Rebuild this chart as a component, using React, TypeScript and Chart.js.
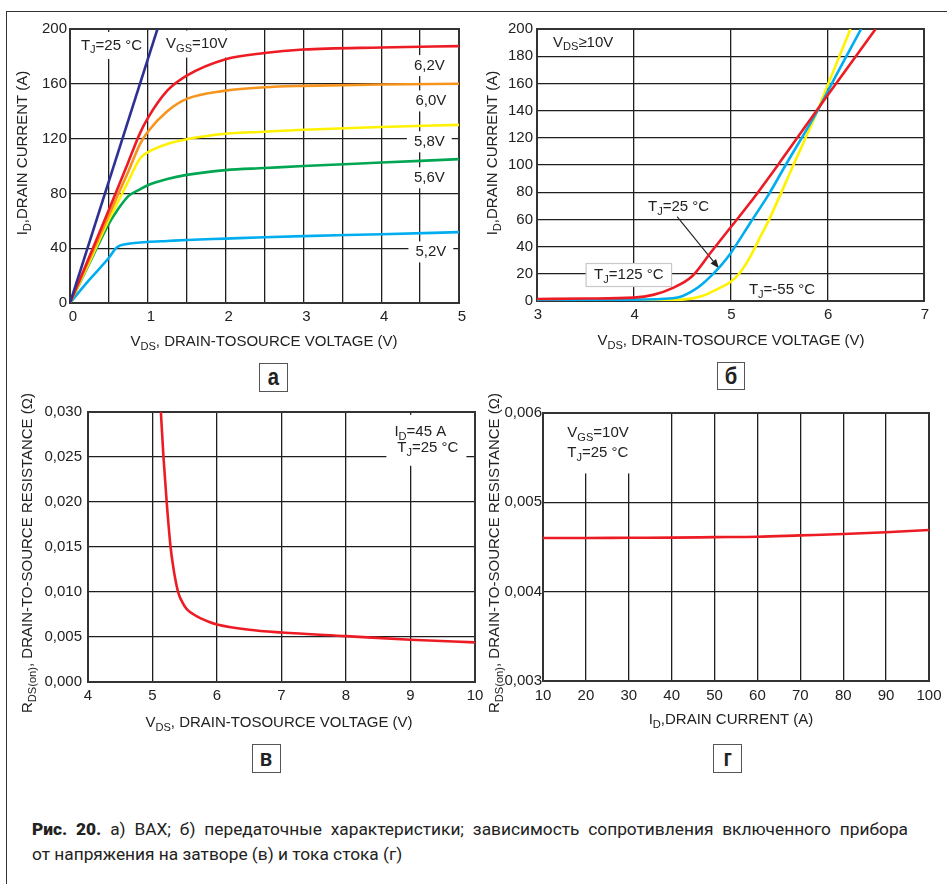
import React, { useEffect, useLayoutEffect, useRef } from 'react';
import { Chart, registerables } from 'chart.js';
Chart.register(...registerables);

const FONT = '"Liberation Sans", Arial, Helvetica, sans-serif';
const INK = '#222';
const GRID = '#1e1e1e';
const FS = 15;

// ---------- Chart а: output characteristics ----------
const A_X = [0, 0.25, 0.5, 0.6, 0.75, 0.9, 1, 1.25, 1.5, 2, 2.5, 3, 4, 5];
const A_I_62 = [0, 34, 68, 82, 103, 124, 135, 155, 166, 178, 182.5, 185, 186.5, 187.5];
const A_I_60 = [0, 32, 64, 77, 96, 116, 125, 140, 149, 155, 157.5, 158.5, 159.5, 160];
const A_I_58 = [0, 30, 61, 72, 89, 105.5, 110, 116, 119.5, 123.5, 125, 126.5, 128.5, 130];
const A_I_56 = [0, 29, 58, 67, 78, 83, 86, 90.5, 93.5, 97, 98.5, 100, 102.5, 105];
const A_I_52 = [0, 17, 33, 40.5, 43.2, 44.2, 44.6, 45.3, 46, 47, 48, 48.8, 50.2, 51.7];
const A_X_10 = [0, 1.124];
const A_I_10 = [0, 200];
const A_CURVE_LABELS = ['6,2V', '6,0V', '5,8V', '5,6V', '5,2V'];

// ---------- Chart б: transfer characteristics ----------
const B_X_125 = [3, 3.5, 4, 4.2, 4.4, 4.6, 4.8, 5.0, 5.2, 5.5, 6.0, 6.5];
const B_I_125 = [1.5, 1.8, 2.5, 4.5, 9.5, 18, 36, 54, 72, 101, 151, 200];
const B_X_25 = [3, 4, 4.4, 4.5, 4.6, 4.7, 4.8, 4.9, 5.0, 5.2, 5.4, 5.57, 5.9, 6.1, 6.35];
const B_I_25 = [1, 1, 2, 3.5, 7, 12, 18.5, 26, 35, 57, 79, 100, 140, 167, 200];
const B_X_M55 = [3, 4, 4.5, 4.7, 4.8, 4.9, 5.0, 5.1, 5.2, 5.3, 5.4, 5.65, 5.9, 6.0, 6.24];
const B_I_M55 = [0.8, 0.6, 1, 3.5, 6.5, 10, 14, 21, 32, 46, 60, 100, 140, 158, 200];

// ---------- Chart в: R vs V ----------
const C_V = [5.13, 5.17, 5.22, 5.28, 5.33, 5.36, 5.39, 5.42, 5.46, 5.5, 5.56, 5.64, 5.74, 5.87, 6.0, 6.5, 7, 8, 9, 10];
const C_R = [0.030, 0.025, 0.020, 0.015, 0.0124, 0.0112, 0.0102, 0.0095, 0.0089, 0.0084, 0.0079, 0.0075, 0.0071, 0.0067, 0.0064, 0.0058, 0.0055, 0.0051, 0.0047, 0.0044];

// ---------- Chart г: R vs I ----------
const D_I = [10, 20, 30, 40, 50, 60, 70, 80, 90, 100];
const D_R = [0.00460, 0.00460, 0.004603, 0.004605, 0.00461, 0.004615, 0.00463, 0.004645, 0.004665, 0.00469];

const PANEL_LETTERS = ['а', 'б', 'в', 'г'];
const CAPTION_BOLD = 'Рис. 20.';
const CAPTION_L1 = ' а) ВАХ; б) передаточные характеристики; зависимость сопротивления включенного прибора';
const CAPTION_L2 = 'от напряжения на затворе (в) и тока стока (г)';

// ---------- rich text helpers ----------
type Part = { t: string; sub: boolean };
function parseRich(s: string): Part[] {
  const out: Part[] = [];
  const re = /_\{([^}]*)\}/g;
  let last = 0;
  let m: RegExpExecArray | null;
  while ((m = re.exec(s))) {
    if (m.index > last) out.push({ t: s.slice(last, m.index), sub: false });
    out.push({ t: m[1], sub: true });
    last = m.index + m[0].length;
  }
  if (last < s.length) out.push({ t: s.slice(last), sub: false });
  return out;
}
const fontStr = (size: number) => `${size}px ${FONT}`;
function richWidth(ctx: CanvasRenderingContext2D, s: string, size: number) {
  let w = 0;
  for (const p of parseRich(s)) {
    ctx.font = fontStr(p.sub ? size * 0.74 : size);
    w += ctx.measureText(p.t).width;
  }
  return w;
}
function drawRich(ctx: CanvasRenderingContext2D, s: string, x: number, y: number, size: number, align: 'left' | 'center') {
  const w = richWidth(ctx, s, size);
  let cx = align === 'center' ? x - w / 2 : x;
  ctx.textBaseline = 'middle';
  ctx.textAlign = 'left';
  ctx.fillStyle = INK;
  for (const p of parseRich(s)) {
    const sz = p.sub ? size * 0.74 : size;
    ctx.font = fontStr(sz);
    ctx.fillText(p.t, cx, p.sub ? y + size * 0.32 : y);
    cx += ctx.measureText(p.t).width;
  }
}

type AnnLine = { x: number; y: number; text: string };
type Ann = { lines: AnnLine[]; pad: [number, number]; border?: string };
type Arrow = { x0: number; y0: number; x1: number; y1: number };
type Title = { text: string; x: number; y: number };
type OverlayCfg = { anns: Ann[]; arrows?: Arrow[]; xTitle: Title; yTitle: Title };

function overlay(cfg: OverlayCfg) {
  return {
    id: 'overlay',
    beforeDatasetsDraw(chart: any) {
      const ctx: CanvasRenderingContext2D = chart.ctx;
      const xs = chart.scales.x, ys = chart.scales.y;
      const ca = chart.chartArea;
      ctx.save();
      ctx.beginPath();
      ctx.rect(ca.left, ca.top, ca.right - ca.left, ca.bottom - ca.top);
      ctx.clip();
      for (const a of cfg.anns) {
        let x0 = Infinity, x1 = -Infinity, y0 = Infinity, y1 = -Infinity;
        const pos = a.lines.map((l) => {
          const px = xs.getPixelForValue(l.x), py = ys.getPixelForValue(l.y);
          const w = richWidth(ctx, l.text, FS);
          x0 = Math.min(x0, px); x1 = Math.max(x1, px + w);
          y0 = Math.min(y0, py - 7.5); y1 = Math.max(y1, py + 7.5);
          return { px, py, l };
        });
        const bx = x0 - a.pad[0], by = y0 - a.pad[1];
        const bw = x1 - x0 + 2 * a.pad[0], bh = y1 - y0 + 2 * a.pad[1];
        ctx.fillStyle = '#fff';
        ctx.fillRect(bx, by, bw, bh);
        if (a.border) {
          ctx.strokeStyle = a.border;
          ctx.lineWidth = 1.2;
          ctx.strokeRect(bx, by, bw, bh);
        }
        for (const p of pos) drawRich(ctx, p.l.text, p.px, p.py, FS, 'left');
      }
      for (const ar of cfg.arrows || []) {
        const ax0 = xs.getPixelForValue(ar.x0), ay0 = ys.getPixelForValue(ar.y0);
        const ax1 = xs.getPixelForValue(ar.x1), ay1 = ys.getPixelForValue(ar.y1);
        const ang = Math.atan2(ay1 - ay0, ax1 - ax0);
        ctx.strokeStyle = INK;
        ctx.lineWidth = 1.1;
        ctx.beginPath();
        ctx.moveTo(ax0, ay0);
        ctx.lineTo(ax1 - 6 * Math.cos(ang), ay1 - 6 * Math.sin(ang));
        ctx.stroke();
        ctx.fillStyle = INK;
        ctx.beginPath();
        ctx.moveTo(ax1, ay1);
        ctx.lineTo(ax1 - 9 * Math.cos(ang) + 3.5 * Math.sin(ang), ay1 - 9 * Math.sin(ang) - 3.5 * Math.cos(ang));
        ctx.lineTo(ax1 - 9 * Math.cos(ang) - 3.5 * Math.sin(ang), ay1 - 9 * Math.sin(ang) + 3.5 * Math.cos(ang));
        ctx.closePath();
        ctx.fill();
      }
      ctx.restore();
      ctx.save();
      ctx.strokeStyle = '#333';
      ctx.lineWidth = 2;
      ctx.strokeRect(ca.left, ca.top, ca.right - ca.left, ca.bottom - ca.top);
      ctx.restore();
    },
    afterDraw(chart: any) {
      const ctx: CanvasRenderingContext2D = chart.ctx;
      ctx.save();
      drawRich(ctx, cfg.xTitle.text, cfg.xTitle.x, cfg.xTitle.y, FS, 'center');
      ctx.translate(cfg.yTitle.x, cfg.yTitle.y);
      ctx.rotate(-Math.PI / 2);
      drawRich(ctx, cfg.yTitle.text, 0, 0, FS, 'center');
      ctx.restore();
    },
  };
}

const pts = (xs: number[], ys: number[]) => xs.map((x, i) => ({ x, y: ys[i] }));
const line = (xs: number[], ys: number[], color: string) => ({
  data: pts(xs, ys),
  borderColor: color,
  backgroundColor: color,
  borderWidth: 2.6,
  pointRadius: 0,
  fill: false,
  cubicInterpolationMode: 'monotone' as const,
});

const commaFmt = (d: number) => (v: number) => v.toFixed(d).replace('.', ',');

type Lay = {
  padding: { top: number; right: number; left: number; bottom: number };
  yw: number; xh: number;
  xmin: number; xmax: number; xstep: number; xcb: (v: number) => string; xpad: number; xoff?: number;
  ymin: number; ymax: number; ystep: number; ycb: (v: number) => string; ypad: number;
};

function makeConfig(datasets: any[], lay: Lay, ov: OverlayCfg): any {
  const tickFont = { family: FONT, size: FS };
  return {
    type: 'line',
    data: { datasets },
    options: {
      responsive: false,
      animation: false,
      events: [],
      layout: { padding: lay.padding },
      plugins: { legend: { display: false }, tooltip: { enabled: false } },
      scales: {
        x: {
          type: 'linear', min: lay.xmin, max: lay.xmax,
          ticks: { stepSize: lay.xstep, callback: lay.xcb, padding: lay.xpad, color: INK, font: tickFont, autoSkip: false, maxRotation: 0, labelOffset: lay.xoff || 0 },
          grid: { color: GRID, lineWidth: 1.3, drawTicks: false },
          border: { display: false },
          afterFit: (s: any) => { s.height = lay.xh; s.paddingLeft = 0; s.paddingRight = 0; },
        },
        y: {
          type: 'linear', min: lay.ymin, max: lay.ymax,
          ticks: { stepSize: lay.ystep, callback: lay.ycb, padding: lay.ypad, color: INK, font: tickFont, autoSkip: false },
          grid: { color: GRID, lineWidth: 1.3, drawTicks: false },
          border: { display: false },
          afterFit: (s: any) => { s.width = lay.yw; s.paddingTop = 0; s.paddingBottom = 0; },
        },
      },
    },
    plugins: [overlay(ov)],
  };
}

function configA() {
  const ds = [
    line(A_X_10, A_I_10, '#2e3192'),
    line(A_X, A_I_62, '#ed1c24'),
    line(A_X, A_I_60, '#f7941d'),
    line(A_X, A_I_58, '#fff200'),
    line(A_X, A_I_56, '#00a651'),
    line(A_X, A_I_52, '#00aeef'),
  ];
  const labelY = [173.3, 147.5, 117.7, 91.4, 37.3];
  const labelX = [4.42, 4.44, 4.42, 4.42, 4.44];
  const anns: Ann[] = [
    { lines: [{ x: 0.14, y: 188, text: 'T_{J}=25 °C' }], pad: [5, 6] },
    { lines: [{ x: 1.235, y: 189, text: 'V_{GS}=10V' }], pad: [5, 6] },
    ...A_CURVE_LABELS.map((t, i) => ({ lines: [{ x: labelX[i], y: labelY[i], text: t }], pad: [7, 3] as [number, number] })),
  ];
  return makeConfig(ds, {
    padding: { top: 29, right: 21, left: 0, bottom: 0 }, yw: 70, xh: 52,
    xmin: 0, xmax: 5, xstep: 0.5, xcb: (v) => (Number.isInteger(v) ? String(v) : ''), xpad: 5, xoff: 3,
    ymin: 0, ymax: 200, ystep: 40, ycb: (v) => String(v), ypad: 3,
  }, {
    anns,
    xTitle: { text: 'V_{DS}, DRAIN-TOSOURCE VOLTAGE (V)', x: 264, y: 342 },
    yTitle: { text: 'I_{D},DRAIN CURRENT (A)', x: 23, y: 153 },
  });
}

function configB() {
  const ds = [
    line(B_X_125, B_I_125, '#ed1c24'),
    line(B_X_25, B_I_25, '#00aeef'),
    line(B_X_M55, B_I_M55, '#fff200'),
  ];
  const anns: Ann[] = [
    { lines: [{ x: 3.165, y: 190, text: 'V_{DS}≥10V' }], pad: [4, 4] },
    { lines: [{ x: 4.147, y: 69.2, text: 'T_{J}=25 °C' }], pad: [3, 3] },
    { lines: [{ x: 3.59, y: 19.1, text: 'T_{J}=125 °C' }], pad: [8, 4], border: '#c8c8c8' },
    { lines: [{ x: 5.19, y: 8.1, text: 'T_{J}=-55 °C' }], pad: [3, 3] },
  ];
  return makeConfig(ds, {
    padding: { top: 29, right: 23, left: 0, bottom: 0 }, yw: 57, xh: 54,
    xmin: 3, xmax: 7, xstep: 1, xcb: (v) => String(v), xpad: 5, xoff: 1,
    ymin: 0, ymax: 200, ystep: 20, ycb: (v) => String(v), ypad: 4,
  }, {
    anns,
    arrows: [{ x0: 4.448, y0: 62, x1: 4.881, y1: 24.1 }],
    xTitle: { text: 'V_{DS}, DRAIN-TOSOURCE VOLTAGE (V)', x: 251, y: 341 },
    yTitle: { text: 'I_{D},DRAIN CURRENT (A)', x: 13, y: 153 },
  });
}

function configC() {
  const ds = [line(C_V, C_R, '#ed1c24')];
  const anns: Ann[] = [
    { lines: [{ x: 8.75, y: 0.02774, text: 'I_{D}=45 A' }, { x: 8.795, y: 0.02597, text: 'T_{J}=25 °C' }], pad: [8, 10] },
  ];
  return makeConfig(ds, {
    padding: { top: 32, right: 12, left: 0, bottom: 0 }, yw: 88, xh: 53,
    xmin: 4, xmax: 10, xstep: 1, xcb: (v) => String(v), xpad: 5,
    ymin: 0, ymax: 0.03, ystep: 0.005, ycb: commaFmt(3), ypad: 6,
  }, {
    anns,
    xTitle: { text: 'V_{DS}, DRAIN-TOSOURCE VOLTAGE (V)', x: 279, y: 343 },
    yTitle: { text: 'R_{DS(on)}, DRAIN-TO-SOURCE RESISTANCE (Ω)', x: 28, y: 173 },
  });
}

function configD() {
  const ds = [line(D_I, D_R, '#ed1c24')];
  const anns: Ann[] = [
    { lines: [{ x: 15.66, y: 0.005773, text: 'V_{GS}=10V' }, { x: 15.66, y: 0.005553, text: 'T_{J}=25 °C' }], pad: [7, 13] },
  ];
  return makeConfig(ds, {
    padding: { top: 33, right: 18, left: 0, bottom: 0 }, yw: 56, xh: 54,
    xmin: 10, xmax: 100, xstep: 10, xcb: (v) => String(v), xpad: 6,
    ymin: 0.003, ymax: 0.006, ystep: 0.001, ycb: commaFmt(3), ypad: 1,
  }, {
    anns,
    xTitle: { text: 'I_{D},DRAIN CURRENT (A)', x: 244, y: 340 },
    yTitle: { text: 'R_{DS(on)}, DRAIN-TO-SOURCE RESISTANCE (Ω)', x: 8, y: 173 },
  });
}

function ChartCanvas(props: { left: number; top: number; width: number; height: number; make: () => any }) {
  const ref = useRef<HTMLCanvasElement>(null);
  useEffect(() => {
    const chart = new Chart(ref.current as HTMLCanvasElement, props.make());
    return () => chart.destroy();
  }, []);
  return (
    <canvas
      ref={ref}
      width={props.width}
      height={props.height}
      style={{ position: 'absolute', left: props.left, top: props.top, width: props.width, height: props.height }}
    />
  );
}

function LetterBox(props: { left: number; top: number; size: number; letter: string }) {
  return (
    <div
      style={{
        position: 'absolute', left: props.left, top: props.top, width: props.size, height: props.size,
        boxSizing: 'border-box', border: '1.5px solid #555', display: 'flex', alignItems: 'center',
        justifyContent: 'center', fontFamily: FONT, fontWeight: 700, fontSize: 23, color: '#222', background: '#fff',
        lineHeight: 1,
      }}
    >
      <span style={{ display: 'inline-block', transform: 'scaleX(0.88)' }}>{props.letter}</span>
    </div>
  );
}

export default function App() {
  const capRef = useRef<HTMLDivElement>(null);
  const l1Ref = useRef<HTMLSpanElement>(null);
  const l2Ref = useRef<HTMLSpanElement>(null);
  useLayoutEffect(() => {
    const el = capRef.current, l1 = l1Ref.current, l2 = l2Ref.current;
    if (!el || !l1 || !l2) return;
    const w2 = l2.getBoundingClientRect().width;
    const w1 = l1.getBoundingClientRect().width;
    if (w2 <= 0 || w1 <= 0) return;
    // compromise between the two line lengths of the reference
    const s = Math.min(876 / w1, 350 / w2) * 0.5 + Math.max(876 / w1, 350 / w2) * 0.5;
    const spaces = (CAPTION_BOLD + CAPTION_L1).split(' ').length - 1;
    const extra = (876 / s - w1) / spaces;
    l1.style.wordSpacing = `${extra}px`;
    el.style.transform = `scaleX(${s})`;
  }, []);
  return (
    <div style={{ position: 'absolute', left: 0, top: 0, width: 947, height: 884, background: '#fff', overflow: 'hidden' }}>
      <div style={{ position: 'absolute', left: 6, top: 11, width: 941, height: 0, borderTop: '1.5px solid #333' }} />
      <div style={{ position: 'absolute', left: 6, top: 11, width: 0, height: 873, borderLeft: '1.5px solid #333' }} />
      <ChartCanvas left={0} top={0} width={480} height={355} make={configA} />
      <ChartCanvas left={480} top={0} width={467} height={355} make={configB} />
      <ChartCanvas left={0} top={380} width={487} height={355} make={configC} />
      <ChartCanvas left={487} top={380} width={460} height={355} make={configD} />
      <LetterBox left={259} top={363} size={29} letter={PANEL_LETTERS[0]} />
      <LetterBox left={717} top={362} size={28} letter={PANEL_LETTERS[1]} />
      <LetterBox left={252} top={744} size={29} letter={PANEL_LETTERS[2]} />
      <LetterBox left={713} top={744} size={29} letter={PANEL_LETTERS[3]} />
      <div
        ref={capRef}
        style={{
          position: 'absolute', left: 32, top: 817, transformOrigin: 'left top', whiteSpace: 'nowrap',
          fontFamily: '"Roboto", "Noto Sans", sans-serif', fontSize: 16.5, lineHeight: '25px', color: '#222',
        }}
      >
        <div>
          <span ref={l1Ref} style={{ display: 'inline-block' }}>
            <b style={{ fontWeight: 900 }}>{CAPTION_BOLD}</b>
            {CAPTION_L1}
          </span>
        </div>
        <div>
          <span ref={l2Ref} style={{ display: 'inline-block' }}>{CAPTION_L2}</span>
        </div>
      </div>
    </div>
  );
}
